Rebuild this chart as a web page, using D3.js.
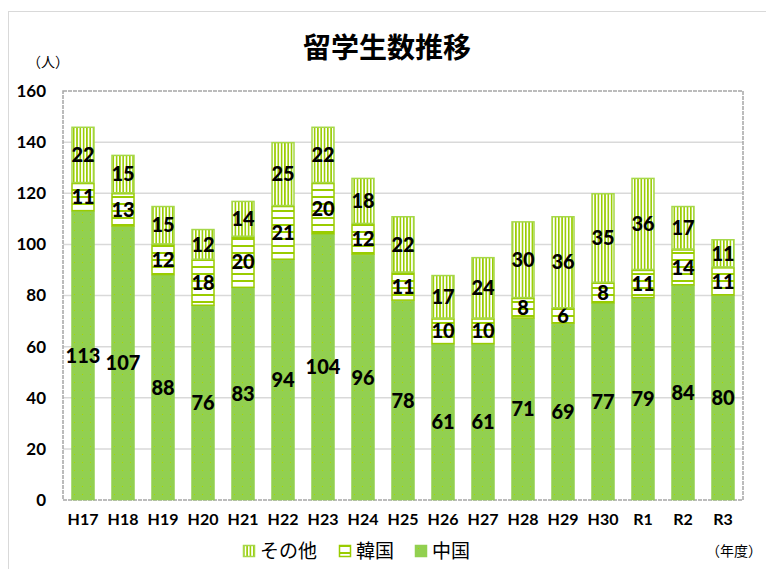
<!DOCTYPE html>
<html>
<head>
<meta charset="utf-8">
<script src="https://cdn.jsdelivr.net/npm/d3@7"></script>
<style>
  body { margin: 0; background: #fff; }
  svg { display: block; }
</style>
</head>
<body>
<div id="chart-area"></div>
<script>
var years = ["H17","H18","H19","H20","H21","H22","H23","H24","H25","H26","H27","H28","H29","H30","R1","R2","R3"];
var china = [113,107,88,76,83,94,104,96,78,61,61,71,69,77,79,84,80];
var korea = [11,13,12,18,20,21,20,12,11,10,10,8,6,8,11,14,11];
var other = [22,15,15,12,14,25,22,18,22,17,24,30,36,35,36,17,11];
var yTicks = [0,20,40,60,80,100,120,140,160];
var seriesNames = ["中国","韓国","その他"];

var W = 766, H = 569;
var margin = {left:63, right:23, top:91, bottom:69};
var width = W - margin.left - margin.right;
var height = H - margin.top - margin.bottom;
var numFont = "Lato, 'Noto Sans', sans-serif";
var jpFont = "'Noto Sans CJK JP', sans-serif";

var svg = d3.select("#chart-area")
    .append("svg")
    .attr("width", W)
    .attr("height", H);

// patterns
var defs = svg.append("defs");
var pc = defs.append("pattern").attr("id","pChina")
    .attr("patternUnits","userSpaceOnUse").attr("width",8).attr("height",8);
pc.append("rect").attr("width",8).attr("height",8).attr("fill","#92d050");
pc.append("rect").attr("x",3).attr("y",3).attr("width",1).attr("height",1).attr("fill","#a8d800");

var pk = defs.append("pattern").attr("id","pKorea")
    .attr("patternUnits","userSpaceOnUse").attr("width",8).attr("height",7);
pk.append("rect").attr("width",8).attr("height",7).attr("fill","#fff");
pk.append("rect").attr("x",0).attr("y",0).attr("width",8).attr("height",2).attr("fill","#99cc00");

var po = defs.append("pattern").attr("id","pOther")
    .attr("patternUnits","userSpaceOnUse").attr("width",3.3).attr("height",8);
po.append("rect").attr("width",3.3).attr("height",8).attr("fill","#fff");
po.append("rect").attr("x",0).attr("y",0).attr("width",1.6).attr("height",8).attr("fill","#99cc00");

var fills = ["url(#pChina)","url(#pKorea)","url(#pOther)"];
var strokes = ["#92d050","#99cc00","#a6d84a"];

// outer frame
svg.append("rect")
    .attr("x",8.5).attr("y",11.5)
    .attr("width",W).attr("height",H)
    .attr("fill","none").attr("stroke","#d9d9d9");

svg.append("text")
    .attr("x", 387).attr("y", 58)
    .attr("text-anchor","middle")
    .attr("font-family", jpFont)
    .attr("font-weight","bold")
    .attr("font-size","28px")
    .text("留学生数推移");

var g = svg.append("g")
    .attr("transform","translate(" + margin.left + "," + margin.top + ")");

var x = d3.scaleBand()
    .domain(years)
    .range([0, width])
    .paddingInner(0.425)
    .paddingOuter(0.2125);

var y = d3.scaleLinear()
    .domain([0,160])
    .range([height, 0]);

// grid
g.selectAll(".grid")
    .data(yTicks.slice(1, -1))
    .enter().append("line")
    .attr("x1",0).attr("x2",width)
    .attr("y1",function(d){ return y(d); })
    .attr("y2",function(d){ return y(d); })
    .attr("stroke","#d9d9d9").attr("stroke-width",1.5);

g.append("rect")
    .attr("x",0).attr("y",0)
    .attr("width",width).attr("height",height)
    .attr("fill","none")
    .attr("stroke","#a6a6a6").attr("stroke-width",1.5)
    .attr("stroke-dasharray","4,1");

// y axis labels
var yAxisCall = d3.axisLeft(y).tickValues(yTicks).tickSize(0).tickPadding(17);
var ya = g.append("g").call(yAxisCall);
ya.select(".domain").remove();
ya.selectAll("text")
    .attr("font-family", numFont).attr("font-weight","bold")
    .attr("font-size","17px").attr("fill","#000");

var xAxisCall = d3.axisBottom(x).tickSize(0).tickPadding(14);
var xa = g.append("g").attr("transform","translate(0," + height + ")").call(xAxisCall);
xa.select(".domain").remove();
xa.selectAll("text")
    .attr("font-family", numFont).attr("font-weight","bold")
    .attr("font-size","16px").attr("fill","#000");

// stacked data
var table = years.map(function(yr, i){
    return { year: yr, china: china[i], korea: korea[i], other: other[i] };
});
var stack = d3.stack().keys(["china","korea","other"])(table);

var layers = g.selectAll(".layer")
    .data(stack)
    .enter().append("g")
    .attr("class","layer");

layers.each(function(layer, li){
    var sel = d3.select(this);
    sel.selectAll("rect")
        .data(layer)
        .enter().append("rect")
        .attr("x", function(d){ return x(d.data.year) + 0.5; })
        .attr("y", function(d){ return y(d[1]) + 0.5; })
        .attr("width", x.bandwidth() - 1)
        .attr("height", function(d){ return y(d[0]) - y(d[1]) - 1; })
        .attr("fill", fills[li])
        .attr("stroke", strokes[li])
        .attr("stroke-width", 1.5);
});

layers.each(function(layer){
    d3.select(this).selectAll("text")
        .data(layer)
        .enter().append("text")
        .attr("x", function(d){ return x(d.data.year) + x.bandwidth()/2; })
        .attr("y", function(d){ return (y(d[0]) + y(d[1]))/2; })
        .attr("dy","0.36em")
        .attr("text-anchor","middle")
        .attr("font-family", numFont).attr("font-weight","900")
        .attr("font-size","20px").attr("fill","#000")
        .text(function(d){ return d[1] - d[0]; });
});

svg.append("text")
    .attr("x", 27).attr("y", 67)
    .attr("font-family", jpFont).attr("font-size","14px")
    .text("（人）");

svg.append("text")
    .attr("x", 706).attr("y", 556)
    .attr("font-family", jpFont).attr("font-size","14px")
    .text("（年度）");

// legend
var legendItems = [
    {name: seriesNames[2], fill: fills[2], stroke: strokes[2], x: 243},
    {name: seriesNames[1], fill: fills[1], stroke: strokes[1], x: 339},
    {name: seriesNames[0], fill: fills[0], stroke: strokes[0], x: 415}
];
var lg = svg.selectAll(".legend")
    .data(legendItems)
    .enter().append("g")
    .attr("transform", function(d){ return "translate(" + d.x + ",545)"; });
lg.append("rect")
    .attr("x",0.5).attr("y",0.5).attr("width",11).attr("height",11)
    .attr("fill", function(d){ return d.fill; })
    .attr("stroke", function(d){ return d.stroke; })
    .attr("stroke-width",1.5);
lg.append("text")
    .attr("x",17).attr("y",6).attr("dy","0.36em")
    .attr("font-family", jpFont).attr("font-size","19px")
    .text(function(d){ return d.name; });
</script>
</body>
</html>
